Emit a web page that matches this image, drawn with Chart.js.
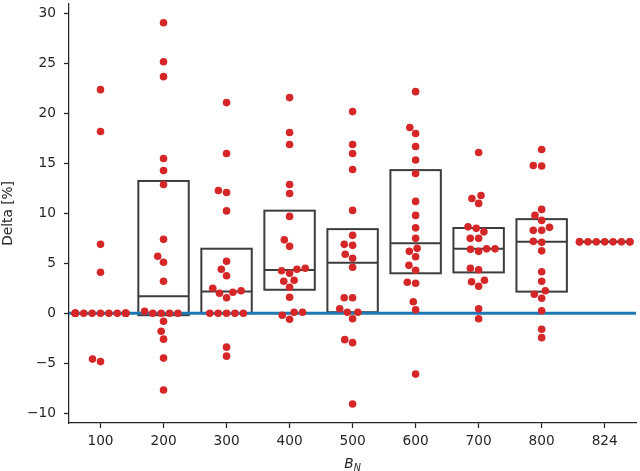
<!DOCTYPE html>
<html>
<head>
<meta charset="utf-8">
<script src="https://cdn.jsdelivr.net/npm/chart.js@4.4.1/dist/chart.umd.min.js"></script>
<style>
  html, body { margin: 0; padding: 0; background: #fff; }
  #wrap { width: 640px; height: 471px; }
</style>
</head>
<body>
<div id="wrap"><canvas id="deltaChart"></canvas></div>
<script>
// --- data ---
const categories = ['100', '200', '300', '400', '500', '600', '700', '800', '824'];
const yTicks = [-10, -5, 0, 5, 10, 15, 20, 25, 30];

const delta100 = [22.4, 18.2, 6.9, 4.1, 0, 0, 0, 0, 0, 0, 0, 0, 0, 0, 0, 0, 0, 0, -4.6, -4.85];
const delta200 = [29.1, 25.2, 23.7, 15.5, 14.3, 12.9, 7.4, 5.7, 5.1, 3.2, 0.2, 0, 0, 0, 0, -0.8, -1.8, -2.6, -4.5, -7.7];
const delta300 = [21.1, 16.0, 12.3, 12.1, 10.25, 5.2, 4.4, 3.75, 2.5, 2.25, 2.1, 2.0, 1.55, 0, 0, 0, 0, 0, -3.4, -4.3];
const delta400 = [21.6, 18.1, 16.9, 12.9, 12.0, 9.7, 7.35, 6.7, 4.5, 4.4, 4.25, 4.0, 3.3, 3.2, 2.6, 1.6, 0.1, 0.1, -0.2, -0.6];
const delta500 = [20.2, 16.9, 16.0, 14.4, 10.3, 7.8, 6.9, 6.8, 5.9, 5.5, 4.6, 1.55, 1.55, 0.45, 0.1, 0.1, -0.55, -2.65, -2.95, -9.1];
const delta600 = [22.2, 18.6, 18.0, 16.7, 15.35, 14.0, 11.2, 9.8, 8.55, 7.5, 6.5, 6.2, 5.65, 4.8, 4.3, 3.1, 3.0, 1.15, 0.35, -6.1];
const delta700 = [16.1, 11.8, 11.5, 11.0, 8.65, 8.5, 8.15, 7.5, 7.5, 6.45, 6.45, 6.4, 6.2, 4.5, 4.35, 3.3, 3.15, 2.7, 0.45, -0.55];
const delta800 = [16.4, 14.8, 14.75, 10.4, 9.8, 9.3, 8.6, 8.3, 8.3, 7.2, 7.1, 6.25, 4.15, 3.2, 2.25, 1.9, 1.5, 0.25, -1.6, -2.45];
const delta824 = [7.15, 7.15, 7.15, 7.15, 7.15, 7.15, 7.15, 7.15, 7.15];

const groups = [delta100, delta200, delta300, delta400, delta500, delta600, delta700, delta800, delta824];
const baseline = 0;

// --- box stats (numpy-style linear percentiles) ---
function percentile(arr, p) {
    const s = arr.slice().sort((a, b) => a - b);
    const pos = (s.length - 1) * p;
    const lo = Math.floor(pos), hi = Math.ceil(pos);
    return s[lo] + (s[hi] - s[lo]) * (pos - lo);
}
const boxes = groups.map(g => ({
    q1: percentile(g, 0.25),
    med: percentile(g, 0.5),
    q3: percentile(g, 0.75)
}));

// --- beeswarm offsets, done in pixel space, clamped to the box width ---
function swarm(values, pxX, pxY, d, limit) {
    const order = values.map((v, i) => i).sort((a, b) => values[a] - values[b]);
    const placed = [];
    const offsets = new Array(values.length).fill(0);
    order.forEach(i => {
        const y = values[i] * pxY;
        let cands = [0];
        placed.forEach(p => {
            const dy = Math.abs(y - p.y);
            if (dy < d) {
                const dx = Math.sqrt(d * d - dy * dy);
                cands.push(p.x + dx, p.x - dx);
            }
        });
        cands.sort((a, b) => Math.abs(a) - Math.abs(b) || a - b);
        let best = 0;
        for (const c of cands) {
            const ok = placed.every(p => Math.hypot(c - p.x, y - p.y) >= d - 1e-6);
            if (ok) { best = c; break; }
        }
        placed.push({ x: best, y: y });
        const shown = Math.max(-limit, Math.min(limit, best));
        offsets[i] = shown / pxX;
    });
    return offsets;
}

const inkColor = '#262626';

// boxes without whiskers, drawn behind the points
const boxPlugin = {
    id: 'boxes',
    beforeDatasetsDraw(chart) {
        const ctx = chart.ctx, xs = chart.scales.x, ys = chart.scales.y;
        ctx.save();
        ctx.strokeStyle = '#3d3d3d';
        ctx.lineWidth = 2;
        boxes.forEach((b, i) => {
            const x0 = xs.getPixelForValue(i - 0.4), x1 = xs.getPixelForValue(i + 0.4);
            const yTop = ys.getPixelForValue(b.q3), yBot = ys.getPixelForValue(b.q1);
            ctx.strokeRect(x0, yTop, x1 - x0, yBot - yTop);
            const ym = ys.getPixelForValue(b.med);
            ctx.beginPath();
            ctx.moveTo(x0, ym);
            ctx.lineTo(x1, ym);
            ctx.stroke();
        });
        ctx.restore();
    }
};

// x title with italic B and subscript N
const xTitlePlugin = {
    id: 'xTitle',
    afterDraw(chart) {
        const ctx = chart.ctx, area = chart.chartArea;
        const cx = (area.left + area.right) / 2;
        const y = 468;
        ctx.save();
        ctx.fillStyle = inkColor;
        ctx.textBaseline = 'alphabetic';
        ctx.font = 'italic 13.7px "DejaVu Sans"';
        const wB = ctx.measureText('B').width;
        ctx.font = 'italic 9.6px "DejaVu Sans"';
        const wN = ctx.measureText('N').width;
        const start = cx - (wB + wN) / 2;
        ctx.font = 'italic 13.7px "DejaVu Sans"';
        ctx.fillText('B', start, y);
        ctx.font = 'italic 9.6px "DejaVu Sans"';
        ctx.fillText('N', start + wB, y + 3);
        ctx.restore();
    }
};

Chart.defaults.font.family = '"DejaVu Sans", sans-serif';
Chart.defaults.font.size = 13.7;
Chart.defaults.color = inkColor;

const ctx = document.getElementById('deltaChart').getContext('2d');
const chart = new Chart(ctx, {
    type: 'scatter',
    data: {
        datasets: [{
            label: 'Delta',
            data: [],
            backgroundColor: '#d62728',
            borderWidth: 0,
            pointRadius: 3.8,
            pointHoverRadius: 3.8,
            order: 1
        }, {
            type: 'line',
            label: 'zero',
            data: [{ x: -0.5, y: baseline }, { x: categories.length - 0.5, y: baseline }],
            borderColor: '#1f77b4',
            borderWidth: 3,
            pointRadius: 0,
            order: 2
        }]
    },
    options: {
        responsive: true,
        maintainAspectRatio: false,
        animation: false,
        layout: { padding: { left: 0, right: 3, top: 0, bottom: 0 } },
        plugins: {
            legend: { display: false },
            tooltip: { enabled: false }
        },
        scales: {
            x: {
                type: 'linear',
                min: -0.5,
                max: categories.length - 0.5,
                afterBuildTicks: s => { s.ticks = categories.map((c, i) => ({ value: i })); },
                afterFit: s => { s.height = 48; s.paddingLeft = 0; s.paddingRight = 0; },
                ticks: {
                    padding: 5,
                    callback: v => categories[v]
                },
                grid: { drawOnChartArea: false, drawTicks: true, tickLength: 5, color: inkColor, tickWidth: 1.25 },
                border: { display: true, color: inkColor, width: 1.25 }
            },
            y: {
                min: -11,
                max: 31,
                afterBuildTicks: s => { s.ticks = yTicks.map(v => ({ value: v })); },
                afterFit: s => { s.width = 69; s.paddingTop = 0; s.paddingBottom = 0; },
                ticks: {
                    padding: 8,
                    callback: v => (v < 0 ? '\u2212' + Math.abs(v) : String(v))
                },
                title: {
                    display: true,
                    text: 'Delta [%]',
                    font: { size: 13.7 },
                    padding: { top: 0, bottom: 0 }
                },
                grid: { drawOnChartArea: false, drawTicks: true, tickLength: 5, color: inkColor, tickWidth: 1.25 },
                border: { display: true, color: inkColor, width: 1.25 }
            }
        }
    },
    plugins: [boxPlugin, xTitlePlugin]
});

// place the swarm once the scales know their pixel sizes
const xs = chart.scales.x, ys = chart.scales.y;
const pxX = xs.getPixelForValue(1) - xs.getPixelForValue(0);
const pxY = ys.getPixelForValue(0) - ys.getPixelForValue(1);
const points = [];
groups.forEach((g, i) => {
    const offs = swarm(g, pxX, pxY, 8.4, 0.4 * pxX);
    g.forEach((v, j) => points.push({ x: i + offs[j], y: v }));
});
chart.data.datasets[0].data = points;
chart.update('none');
</script>
</body>
</html>
